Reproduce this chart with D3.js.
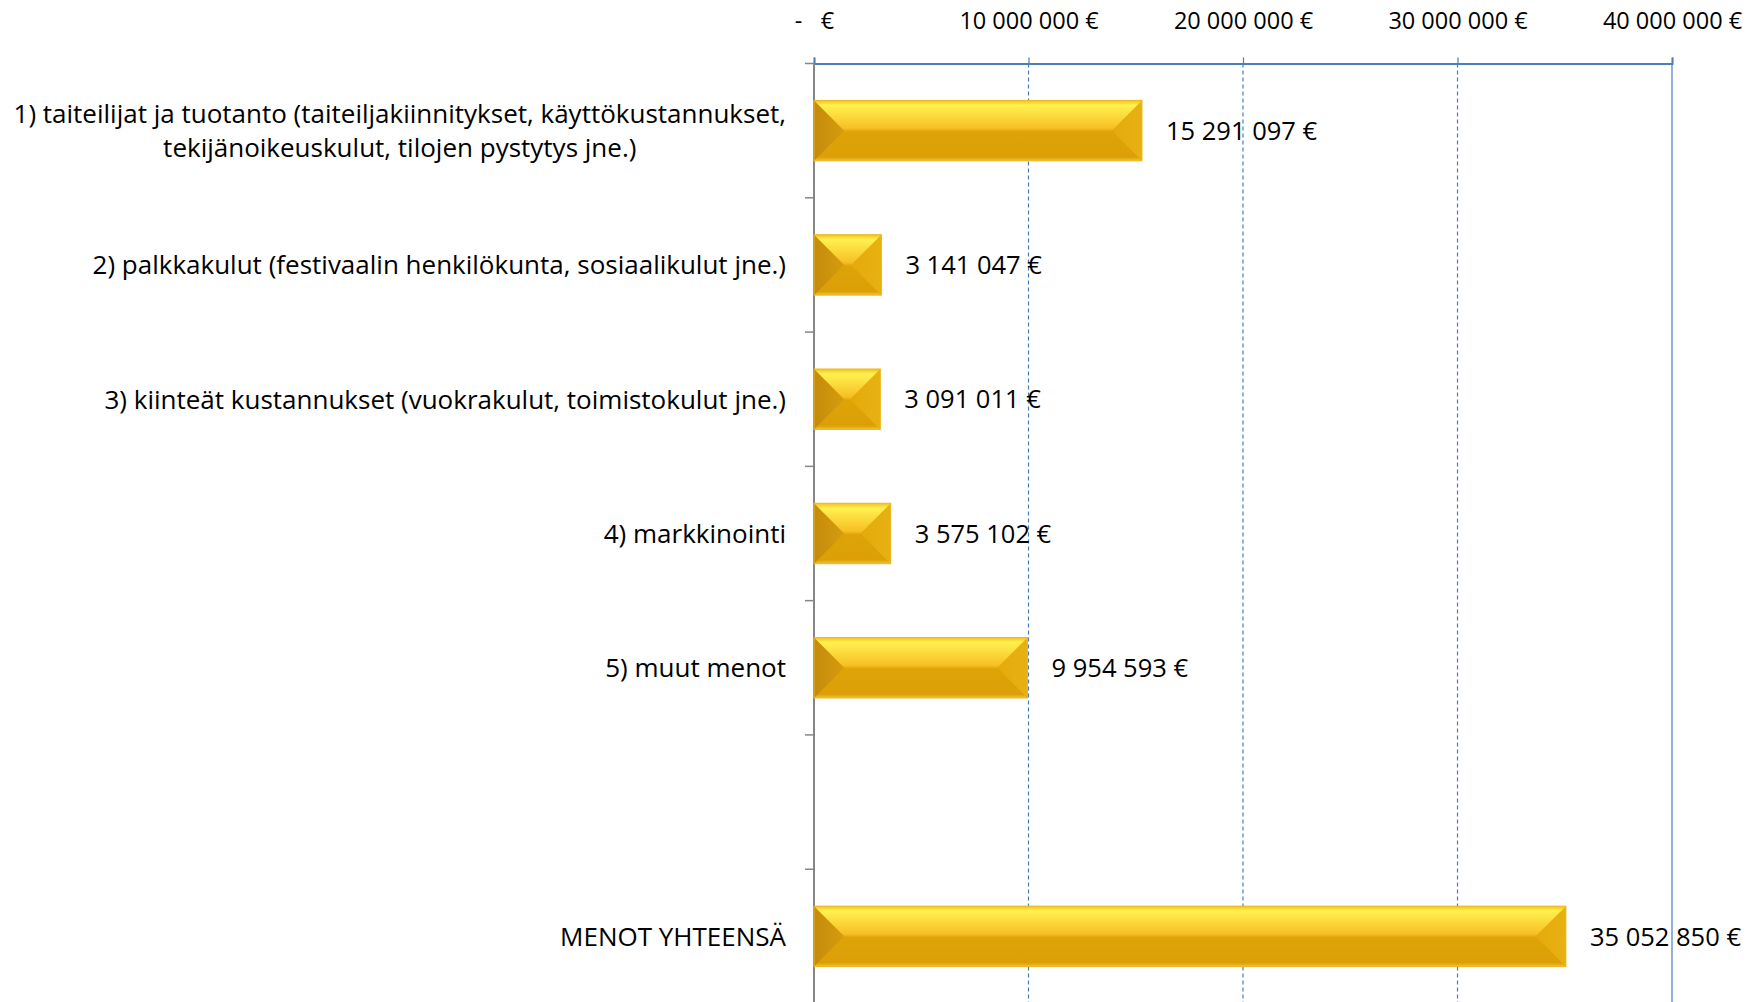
<!DOCTYPE html>
<html>
<head>
<meta charset="utf-8">
<script src="https://cdn.jsdelivr.net/npm/d3@7"></script>
<style>
  body { margin: 0; background: #fff; }
  svg { display: block; font-family: "Open Sans", sans-serif; }
</style>
</head>
<body>
<svg></svg>
<script>
// data
var categories = [
  ["1) taiteilijat ja tuotanto (taiteiljakiinnitykset, käyttökustannukset,", "tekijänoikeuskulut, tilojen pystytys jne.)"],
  ["2) palkkakulut (festivaalin henkilökunta, sosiaalikulut jne.)"],
  ["3) kiinteät kustannukset (vuokrakulut, toimistokulut jne.)"],
  ["4) markkinointi"],
  ["5) muut menot"],
  [""],
  ["MENOT YHTEENSÄ"]
];
var values = [15291097, 3141047, 3091011, 3575102, 9954593, null, 35052850];
var tickValues = [0, 10000000, 20000000, 30000000, 40000000];

var width = 1748, height = 1002;
var margin = { top: 63.5, left: 814, right: 76, bottom: -1.5 };

var locale = d3.formatLocale({ decimal: ",", thousands: " ", grouping: [3], currency: ["", " €"] });
var fmt = locale.format(",.0f");
function euro(v) { return v === 0 ? "-   €" : fmt(v) + " €"; }

var svg = d3.select("svg").attr("width", width).attr("height", height);

var keys = categories.map(function(d, i) { return "c" + i; });

var x = d3.scaleLinear().domain([0, 40000000]).range([margin.left, width - margin.right]);
var y = d3.scaleBand().domain(keys)
    .range([margin.top, height - margin.bottom])
    .paddingInner(0.55).paddingOuter(0.275);

// gradients
var defs = svg.append("defs");
var g1 = defs.append("linearGradient").attr("id", "barFill").attr("x1", 0).attr("y1", 0).attr("x2", 0).attr("y2", 1);
g1.append("stop").attr("offset", "0%").attr("stop-color", "#f3c21a");
g1.append("stop").attr("offset", "8%").attr("stop-color", "#fff150");
g1.append("stop").attr("offset", "46%").attr("stop-color", "#f7bf24");
g1.append("stop").attr("offset", "52%").attr("stop-color", "#dda307");
g1.append("stop").attr("offset", "94%").attr("stop-color", "#dca006");
g1.append("stop").attr("offset", "100%").attr("stop-color", "#f2c43a");
var g2 = defs.append("linearGradient").attr("id", "bevelLeft").attr("x1", 0).attr("y1", 0).attr("x2", 1).attr("y2", 0);
g2.append("stop").attr("offset", "0%").attr("stop-color", "#c48a0c");
g2.append("stop").attr("offset", "100%").attr("stop-color", "#d69d0c");
var g3 = defs.append("linearGradient").attr("id", "bevelRight").attr("x1", 0).attr("y1", 0).attr("x2", 1).attr("y2", 0);
g3.append("stop").attr("offset", "0%").attr("stop-color", "#e4aa0c");
g3.append("stop").attr("offset", "100%").attr("stop-color", "#e8b112");

// gridlines
svg.append("g").selectAll("line")
  .data(tickValues.slice(1))
  .enter().append("line")
    .attr("x1", function(d) { return x(d); })
    .attr("x2", function(d) { return x(d); })
    .attr("y1", margin.top)
    .attr("y2", height)
    .attr("stroke", "#4a7ebb")
    .attr("stroke-width", 1.2)
    .attr("stroke-dasharray", function(d, i) { return i === 3 ? null : "4,3"; });

// top axis
var xAxis = d3.axisTop(x).tickValues(tickValues).tickFormat(euro).tickSize(6).tickPadding(29);
var ax = svg.append("g")
    .attr("transform", "translate(0," + margin.top + ")")
    .call(xAxis);
ax.select(".domain").attr("stroke", "#4a7ebb").attr("stroke-width", 2);
ax.selectAll(".tick line").attr("stroke", "#4a7ebb").attr("stroke-width", 1.2);
ax.selectAll(".tick text")
    .attr("fill", "#000")
    .style("font-family", "'Liberation Sans Narrow', 'Open Sans', sans-serif")
    .style("font-size", "23.5px")
    .attr("xml:space", "preserve");

// left axis line + boundary ticks
var yAxisG = svg.append("g");
yAxisG.append("line")
    .attr("x1", x(0)).attr("x2", x(0))
    .attr("y1", margin.top).attr("y2", height)
    .attr("stroke", "#868686").attr("stroke-width", 2);
var bounds = keys.map(function(k) { return y(k) - y.step() * y.paddingInner() / 2; });
bounds.push(bounds[bounds.length - 1] + y.step());
yAxisG.selectAll(".bt").data(bounds).enter().append("line")
    .attr("x1", x(0) - 9).attr("x2", x(0))
    .attr("y1", function(d) { return d; }).attr("y2", function(d) { return d; })
    .attr("stroke", "#868686").attr("stroke-width", 1.5);

// bars
var bars = svg.append("g").selectAll("g")
  .data(values.map(function(v, i) { return { key: keys[i], value: v }; }).filter(function(d) { return d.value != null; }))
  .enter().append("g");

bars.each(function(d) {
  var gg = d3.select(this);
  var x0 = x(0), x1 = x(d.value), y0 = y(d.key), h = y.bandwidth();
  var w = x1 - x0;
  var b = Math.min(h / 2, w / 2);
  gg.append("rect")
    .attr("x", x0).attr("y", y0).attr("width", w).attr("height", h)
    .attr("fill", "url(#barFill)");
  gg.append("path")
    .attr("d", "M" + x0 + "," + y0 + "L" + (x0 + b) + "," + (y0 + h / 2) + "L" + x0 + "," + (y0 + h) + "Z")
    .attr("fill", "url(#bevelLeft)");
  gg.append("path")
    .attr("d", "M" + x1 + "," + y0 + "L" + (x1 - b) + "," + (y0 + h / 2) + "L" + x1 + "," + (y0 + h) + "Z")
    .attr("fill", "url(#bevelRight)");
  gg.append("rect")
    .attr("x", x0).attr("y", y0).attr("width", w).attr("height", h)
    .attr("fill", "none").attr("stroke", "#e8b820").attr("stroke-width", 1);
  gg.append("text")
    .attr("x", x1 + 24)
    .attr("y", y0 + h / 2)
    .attr("dy", "0.36em")
    .style("font-size", "25.5px")
    .attr("fill", "#000")
    .text(euro(d.value));
});

// category labels
var labelRight = 786;
var labels = svg.append("g").selectAll("text")
  .data(categories.map(function(c, i) { return { key: keys[i], lines: c }; }))
  .enter().append("text")
    .style("font-size", "26px")
    .attr("fill", "#000");

labels.each(function(d) {
  var t = d3.select(this);
  var cy = y(d.key) + y.bandwidth() / 2;
  var lh = 34.5;
  var n = d.lines.length;
  var spans = d.lines.map(function(line, j) {
    return t.append("tspan").attr("y", cy + (j - (n - 1) / 2) * lh).attr("dy", "0.36em").text(line);
  });
  if (n === 1) {
    t.attr("text-anchor", "end");
    spans[0].attr("x", labelRight);
  } else {
    var maxW = d3.max(spans, function(s) { return s.node().getComputedTextLength(); });
    t.attr("text-anchor", "middle");
    spans.forEach(function(s) { s.attr("x", labelRight - maxW / 2); });
  }
});
</script>
</body>
</html>
